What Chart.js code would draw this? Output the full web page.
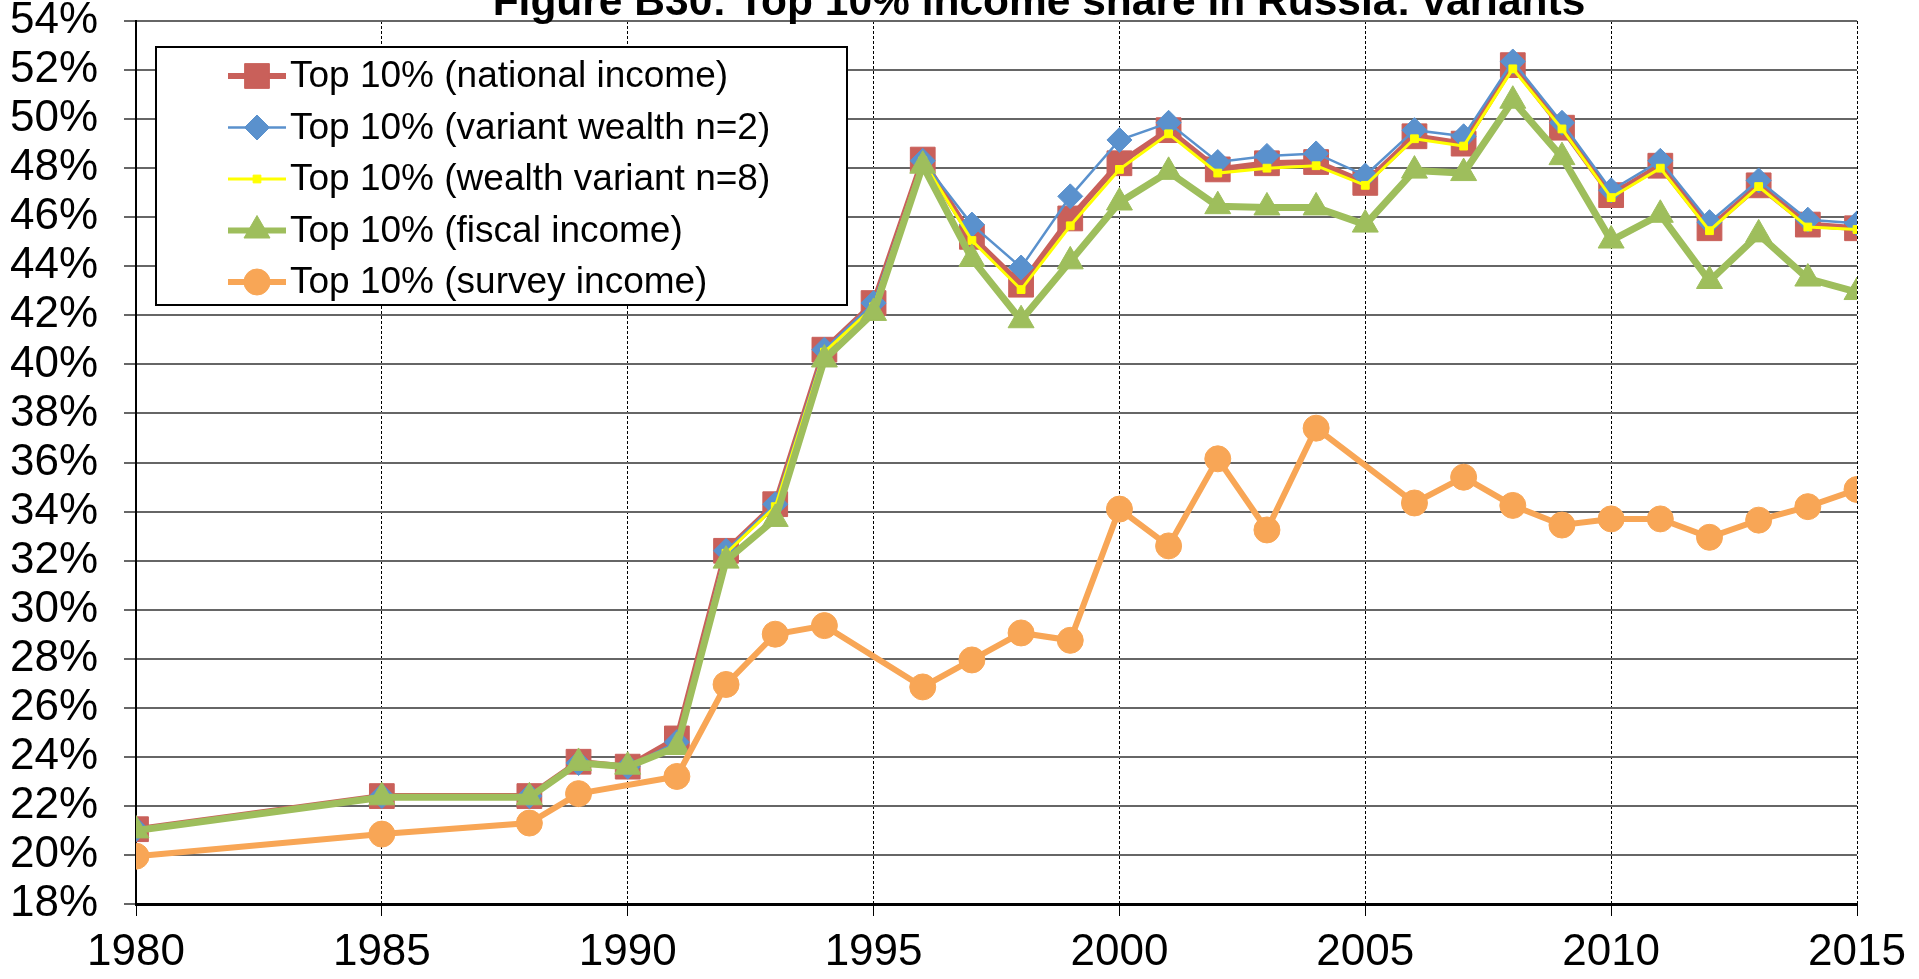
<!DOCTYPE html>
<html><head><meta charset="utf-8">
<script src="https://cdn.jsdelivr.net/npm/chart.js@4.4.1/dist/chart.umd.min.js"></script>
<style>html,body{margin:0;padding:0;background:#fff;overflow:hidden}canvas{display:block}</style>
</head><body>
<canvas id="c" width="1919" height="979"></canvas>
<script>
const titleText = 'Figure B30: Top 10% income share in Russia: variants';
const years = [1980,1985,1988,1989,1990,1991,1992,1993,1994,1995,1996,1997,1998,1999,2000,2001,2002,2003,2004,2005,2006,2007,2008,2009,2010,2011,2012,2013,2014,2015];
const seriesNames = ['Top 10% (national income)','Top 10% (variant wealth n=2)','Top 10% (wealth variant n=8)','Top 10% (fiscal income)','Top 10% (survey income)'];
const nationalIncome = [21.05,22.4,22.4,23.8,23.6,24.75,32.4,34.3,40.6,42.5,48.35,45.2,43.25,45.95,48.2,49.55,47.95,48.2,48.25,47.4,49.3,49.0,52.2,49.65,46.9,48.1,45.55,47.3,45.7,45.55];
const wealthN2 = [21.05,22.4,22.4,23.75,23.6,24.6,32.4,34.3,40.6,42.5,48.3,45.7,43.95,46.85,49.15,49.85,48.25,48.5,48.6,47.7,49.55,49.3,52.35,49.85,47.1,48.3,45.8,47.5,45.9,45.75];
const wealthN8 = [21.0,22.35,22.35,23.7,23.55,24.5,32.3,34.2,40.5,42.35,48.3,45.05,43.05,45.65,47.95,49.4,47.8,48.0,48.1,47.3,49.2,48.9,52.05,49.6,46.8,48.0,45.45,47.25,45.6,45.5];
const fiscalIncome = [21.0,22.35,22.35,23.75,23.6,24.4,32.0,33.7,40.2,42.1,48.1,44.3,41.8,44.2,46.6,47.85,46.45,46.4,46.4,45.7,47.9,47.8,50.75,48.45,45.05,46.1,43.4,45.3,43.5,42.95];
const surveyIncome = [19.95,20.85,21.3,22.5,null,23.2,26.95,29.0,29.35,null,26.85,27.95,29.05,28.75,34.1,32.6,36.15,33.25,37.4,null,34.35,35.4,34.25,33.45,33.7,33.7,32.95,33.65,34.2,34.9];
const xTicks = [1980,1985,1990,1995,2000,2005,2010,2015];
const yMin = 18, yMax = 54, yStep = 2;

const styles = [
  {color:'#C9605A', width:6, point:'rect', r:17.5, order:5},
  {color:'#5A91CD', width:2.5, point:'rectRot', r:12.5, order:4},
  {color:'#FFFF00', width:3, point:'rect', r:5.5, order:3},
  {color:'#9EBE5C', width:7, point:'triangle', r:15, order:2},
  {color:'#F8A656', width:6, point:'circle', r:13, order:1}
];
const allValues = [nationalIncome, wealthN2, wealthN8, fiscalIncome, surveyIncome];

const datasets = allValues.map((vals, i) => ({
  label: seriesNames[i],
  data: years.map((y, j) => ({x: y, y: vals[j]})),
  borderColor: styles[i].color,
  backgroundColor: styles[i].color,
  borderWidth: styles[i].width,
  pointStyle: styles[i].point,
  pointRadius: styles[i].r,
  pointBorderWidth: 1,
  pointBorderColor: styles[i].color,
  pointBackgroundColor: styles[i].color,
  order: styles[i].order,
  spanGaps: true,
  tension: 0
}));

function drawMarker(ctx, style, r, x, y, color) {
  ctx.save();
  ctx.fillStyle = color; ctx.strokeStyle = color; ctx.lineWidth = 1;
  ctx.beginPath();
  if (style === 'rect') {
    const s = Math.SQRT1_2 * r;
    ctx.rect(x - s, y - s, 2 * s, 2 * s);
  } else if (style === 'rectRot') {
    ctx.moveTo(x - r, y); ctx.lineTo(x, y - r); ctx.lineTo(x + r, y); ctx.lineTo(x, y + r); ctx.closePath();
  } else if (style === 'triangle') {
    let a = 0;
    ctx.moveTo(x + Math.sin(a) * r, y - Math.cos(a) * r);
    a += 2 * Math.PI / 3; ctx.lineTo(x + Math.sin(a) * r, y - Math.cos(a) * r);
    a += 2 * Math.PI / 3; ctx.lineTo(x + Math.sin(a) * r, y - Math.cos(a) * r);
    ctx.closePath();
  } else {
    ctx.arc(x, y, r, 0, Math.PI * 2);
  }
  ctx.fill(); ctx.stroke();
  ctx.restore();
}

const overlayPlugin = {
  id: 'overlay',
  afterDraw(chart) {
    const ctx = chart.ctx;
    ctx.save();
    ctx.font = 'bold 42.5px "Liberation Sans", Arial, sans-serif';
    ctx.fillStyle = '#000';
    ctx.textAlign = 'center';
    ctx.textBaseline = 'alphabetic';
    ctx.fillText(titleText, 1039, 15);
    ctx.restore();
    const bx = 156, by = 47, bw = 691, bh = 258;
    ctx.save();
    ctx.fillStyle = '#fff';
    ctx.fillRect(bx, by, bw, bh);
    ctx.lineWidth = 2;
    ctx.strokeStyle = '#000';
    ctx.strokeRect(bx, by, bw, bh);
    ctx.font = '37px "Liberation Sans", Arial, sans-serif';
    ctx.textBaseline = 'middle';
    ctx.textAlign = 'left';
    chart.data.datasets.forEach((ds, i) => {
      const y = 76 + i * 51.5;
      const st = styles[i];
      ctx.strokeStyle = st.color;
      ctx.lineWidth = Math.min(st.width, 6);
      ctx.beginPath(); ctx.moveTo(228, y); ctx.lineTo(286, y); ctx.stroke();
      drawMarker(ctx, st.point, st.r, 257, y, st.color);
      ctx.fillStyle = '#000';
      ctx.fillText(ds.label, 290, y + 1);
    });
    ctx.restore();
  }
};

const tickFont = {family: '"Liberation Sans", Arial, sans-serif', size: 44, lineHeight: 1.0};

new Chart(document.getElementById('c'), {
  type: 'line',
  data: {datasets},
  options: {
    responsive: false,
    animation: false,
    events: [],
    layout: {padding: {left: 0, top: 21, right: 62, bottom: 0}},
    plugins: {legend: {display: false}, tooltip: {enabled: false}, title: {display: false}},
    scales: {
      x: {
        type: 'linear', min: 1980, max: 2015,
        afterBuildTicks: (s) => { s.ticks = xTicks.map(v => ({value: v})); },
        afterFit: (s) => { s.height = 75; s.paddingLeft = 0; s.paddingRight = 0; },
        ticks: {font: tickFont, color: '#000', padding: 15, maxRotation: 0, autoSkip: false,
                callback: (v) => String(v)},
        grid: {color: '#000', lineWidth: 1, tickLength: 12, tickColor: '#000', tickWidth: 1, tickBorderDash: []},
        border: {display: true, color: '#000', width: 3, dash: [3, 2]}
      },
      y: {
        type: 'linear', min: yMin, max: yMax,
        afterBuildTicks: (s) => { const t = []; for (let v = yMin; v <= yMax; v += yStep) t.push({value: v}); s.ticks = t; },
        ticks: {stepSize: yStep, font: tickFont, color: '#000', padding: 26, autoSkip: false,
                callback: (v) => v + '%'},
        afterFit: (s) => { s.width = 136; s.paddingTop = 0; s.paddingBottom = 0; },
        grid: {color: '#666', lineWidth: 2, tickLength: 12, tickColor: '#666', tickWidth: 2},
        border: {display: true, color: '#000', width: 2}
      }
    }
  },
  plugins: [overlayPlugin]
});
</script>
</body></html>
